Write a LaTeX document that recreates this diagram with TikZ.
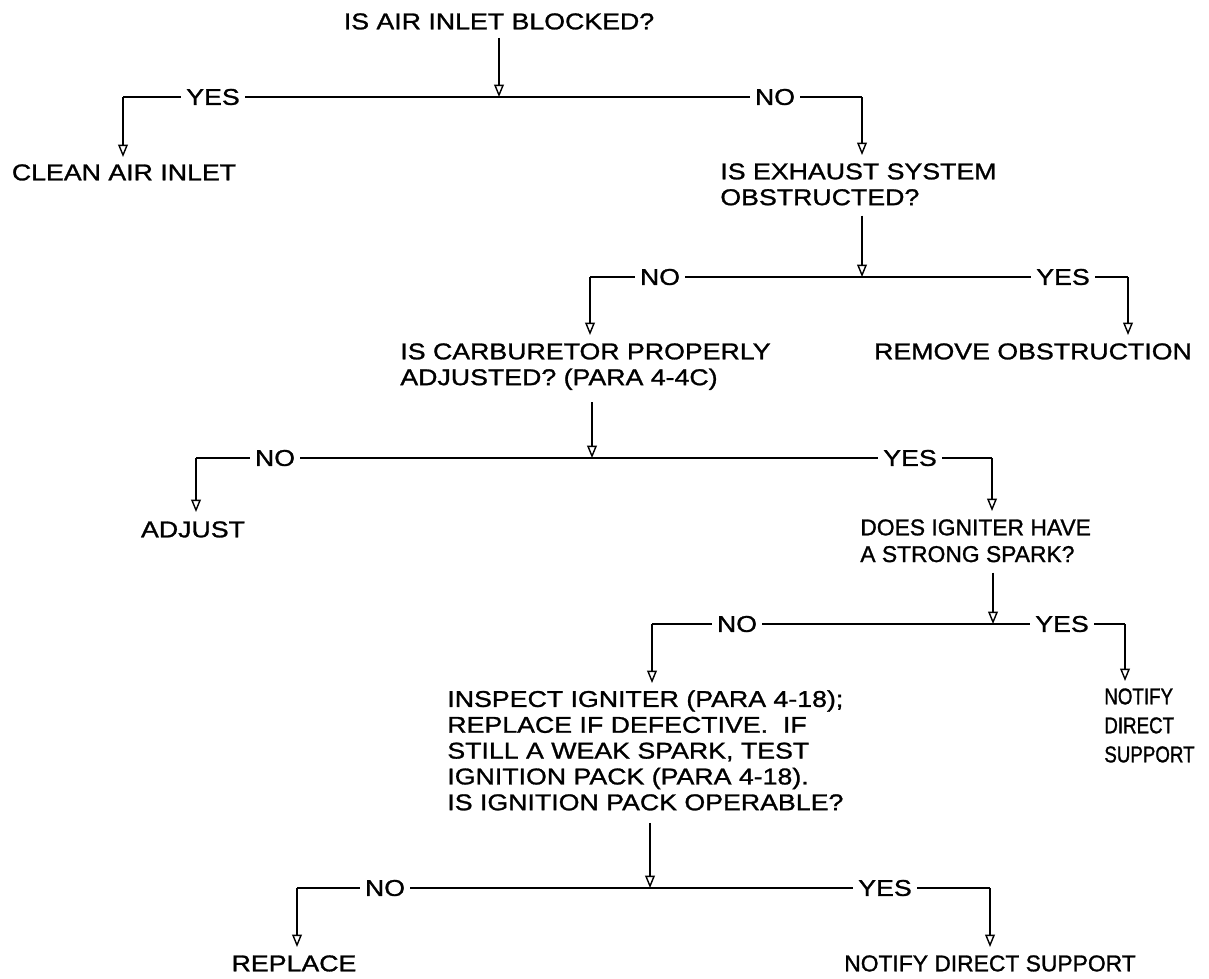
\documentclass[tikz,border=0pt]{standalone}
\usepackage{fontspec}
\setmainfont{Liberation Sans}[FakeStretch=1.17, FakeBold=1.2]
\newfontfamily\estreita{Liberation Sans}[FakeStretch=1.0, FakeBold=1.2]
\newfontfamily\maisestreita{Liberation Sans}[FakeStretch=0.82, FakeBold=1.2]
\usepackage{tikz}
\usetikzlibrary{arrows.meta,positioning,calc}
\tikzset{
    texto/.style={
        inner sep=0pt,
        font=\fontsize{13pt}{14.7pt}\selectfont
    },
    pergunta/.style={texto, align=left, anchor=north west},
    acao/.style={texto, align=left, anchor=north},
    rotulo/.style={texto, fill=white, inner xsep=3pt, inner ysep=2pt},
    barra/.style={line width=0.8pt},
    fluxo/.style={-{Triangle[open,length=7pt,width=5.5pt]}, line width=0.8pt}
}

\begin{document}
\begin{tikzpicture}[x=0.02cm, y=-0.02cm]
    \useasboundingbox (0,0) rectangle (1209,978);

    % perguntas e acoes
    \node[acao] (q1) at (499,13) {IS AIR INLET BLOCKED?};
    \node[acao] (a1) at (124,164) {CLEAN AIR INLET};
    \node[pergunta] (q2) at (720,163) {IS EXHAUST SYSTEM\\OBSTRUCTED?};
    \node[pergunta] (q3) at (400,343) {IS CARBURETOR PROPERLY\\ADJUSTED? (PARA 4-4C)};
    \node[acao] (a2) at (1033,343) {REMOVE OBSTRUCTION};
    \node[acao] (a3) at (193,521) {ADJUST};
    \node[pergunta, font=\fontsize{13pt}{15.2pt}\estreita] (q4) at (860,519)
        {DOES IGNITER HAVE\\A STRONG SPARK?};
    \node[pergunta] (q5) at (447,690)
        {INSPECT IGNITER (PARA 4-18);\\REPLACE IF DEFECTIVE.\ \ IF\\STILL A WEAK SPARK, TEST\\IGNITION PACK (PARA 4-18).\\IS IGNITION PACK OPERABLE?};
    \node[pergunta, font=\fontsize{13pt}{16.5pt}\maisestreita] (a4) at (1104,688)
        {NOTIFY\\DIRECT\\SUPPORT};
    \node[acao] (a5) at (294,955) {REPLACE};
    \node[acao, font=\fontsize{13pt}{14.7pt}\estreita] (a6) at (990,955)
        {NOTIFY DIRECT SUPPORT};

    % juncoes das barras
    \coordinate (j1) at (499,97);
    \coordinate (j1l) at (123,97);
    \coordinate (j1r) at (862,97);
    \coordinate (j2) at (862,277);
    \coordinate (j2l) at (590,277);
    \coordinate (j2r) at (1128,277);
    \coordinate (j3) at (592,458);
    \coordinate (j3l) at (196,458);
    \coordinate (j3r) at (992,458);
    \coordinate (j4) at (993,624);
    \coordinate (j4l) at (652,624);
    \coordinate (j4r) at (1125,624);
    \coordinate (j5) at (650,888);
    \coordinate (j5l) at (297,888);
    \coordinate (j5r) at (990,888);

    % barras com rotulos
    \draw[barra] (j1l) -- (j1r);
    \node[rotulo] (y1) at (213,97) {YES};
    \node[rotulo] (n1) at (775,97) {NO};
    \draw[barra] (j2l) -- (j2r);
    \node[rotulo] (n2) at (660,277) {NO};
    \node[rotulo] (y2) at (1063,277) {YES};
    \draw[barra] (j3l) -- (j3r);
    \node[rotulo] (n3) at (275,458) {NO};
    \node[rotulo] (y3) at (910,458) {YES};
    \draw[barra] (j4l) -- (j4r);
    \node[rotulo] (n4) at (737,624) {NO};
    \node[rotulo] (y4) at (1062,624) {YES};
    \draw[barra] (j5l) -- (j5r);
    \node[rotulo] (n5) at (385,888) {NO};
    \node[rotulo] (y5) at (885,888) {YES};

    % fluxos
    \draw[fluxo] ($(q1.south)+(0,8)$) -- (j1);
    \draw[fluxo] (j1l) -- ($(j1l |- a1.north)+(0,-7)$);
    \draw[fluxo] (j1r) -- ($(j1r |- q2.north)+(0,-8)$);
    \draw[fluxo] ($(j2 |- q2.south)+(0,10)$) -- (j2);
    \draw[fluxo] (j2l) -- ($(j2l |- q3.north)+(0,-8)$);
    \draw[fluxo] (j2r) -- ($(j2r |- a2.north)+(0,-8)$);
    \draw[fluxo] ($(j3 |- q3.south)+(0,12)$) -- (j3);
    \draw[fluxo] (j3l) -- ($(j3l |- a3.north)+(0,-9)$);
    \draw[fluxo] (j3r) -- ($(j3r |- q4.north)+(0,-8)$);
    \draw[fluxo] ($(j4 |- q4.south)+(0,10)$) -- (j4);
    \draw[fluxo] (j4l) -- ($(j4l |- q5.north)+(0,-7)$);
    \draw[fluxo] (j4r) -- ($(j4r |- a4.north)+(0,-7)$);
    \draw[fluxo] ($(j5 |- q5.south)+(0,12)$) -- (j5);
    \draw[fluxo] (j5l) -- ($(j5l |- a5.north)+(0,-8)$);
    \draw[fluxo] (j5r) -- ($(j5r |- a6.north)+(0,-8)$);
\end{tikzpicture}
\end{document}
